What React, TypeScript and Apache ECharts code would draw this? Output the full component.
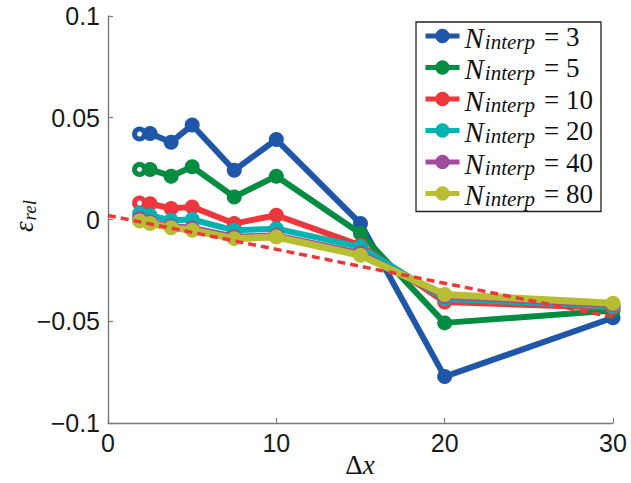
import React, { useEffect, useRef } from "react";
import * as echarts from "echarts";

// Grid spacing Δx at which the relative error was evaluated
const gridSpacing = [1.875, 2.5, 3.75, 5, 7.5, 10, 15, 20, 30];

// Number of interpolation points for each curve
const interpCounts = [3, 5, 10, 20, 40, 80];

// Relative error ε_rel for each interpolation count
const errInterp3 = [0.042, 0.0423, 0.038, 0.0464, 0.0242, 0.0393, -0.002, -0.0772, -0.0483];
const errInterp5 = [0.0246, 0.0246, 0.0213, 0.0259, 0.0111, 0.0213, -0.0069, -0.0508, -0.0447];
const errInterp10 = [0.0081, 0.0078, 0.0054, 0.0062, -0.002, 0.0021, -0.0127, -0.0406, -0.0434];
const errInterp20 = [0.0029, 0.002, -0.0004, 0, -0.0053, -0.0045, -0.0135, -0.039, -0.0428];
const errInterp40 = [0.0005, -0.0012, -0.0032, -0.0042, -0.0085, -0.0078, -0.0165, -0.0378, -0.042];
const errInterp80 = [-0.0007, -0.002, -0.004, -0.0053, -0.0094, -0.0086, -0.0176, -0.0368, -0.0411];

// Dashed reference trend
const trendX = [0, 30];
const trendY = [0.002, -0.048];

// Axis ticks
const xTicks = [0, 10, 20, 30];
const yTicks = [-0.1, -0.05, 0, 0.05, 0.1];

const errorSeries = [errInterp3, errInterp5, errInterp10, errInterp20, errInterp40, errInterp80];
const colors = ["#1f56a8", "#008c41", "#ee373c", "#00b2b2", "#a04ba0", "#b8be33"];
const hollowFirst = [true, true, true, false, false, false];

const SERIF = "'Liberation Serif', 'Times New Roman', serif";
const SANS = "'Liberation Sans', Arial, Helvetica, sans-serif";

function formatY(v: number): string {
  const r = parseFloat(v.toFixed(3));
  if (r === 0) return "0";
  return (r < 0 ? "\u2212" : "") + String(Math.abs(r));
}

export default function App() {
  const ref = useRef<HTMLDivElement>(null);

  useEffect(() => {
    document.body.style.margin = "0";
    if (!ref.current) return;
    const chart = echarts.init(ref.current, null, { renderer: "svg" });

    const lineSeries = errorSeries.map((vals, i) => ({
      name: String(interpCounts[i]),
      type: "line",
      data: vals.map((y, j) => {
        const point: any = { value: [gridSpacing[j], y] };
        if (j === 0 && hollowFirst[i]) {
          point.symbolSize = 10;
          point.itemStyle = { color: "#ffffff", borderColor: colors[i], borderWidth: 5 };
        }
        return point;
      }),
      symbol: "circle",
      symbolSize: 15,
      showSymbol: true,
      lineStyle: { color: colors[i], width: i === 5 ? 7 : 6 },
      itemStyle: { color: colors[i] },
      z: 2 + i,
      emphasis: { disabled: true },
    }));

    const trendSeries = {
      name: "trend",
      type: "line",
      data: trendX.map((x, j) => [x, trendY[j]]),
      symbol: "none",
      lineStyle: { color: "#ee373c", width: 3.5, type: [8, 5] },
      z: 10,
      emphasis: { disabled: true },
    };

    chart.setOption({
      animation: false,
      backgroundColor: "#ffffff",
      grid: { left: 108, right: 18, top: 16, bottom: 60, containLabel: false, outerBoundsMode: "none" },
      xAxis: {
        type: "value",
        min: xTicks[0],
        max: xTicks[xTicks.length - 1],
        interval: xTicks[1] - xTicks[0],
        axisLine: { show: true, onZero: false, lineStyle: { color: "#7a7a7a", width: 1.4 } },
        axisTick: { show: true, inside: true, length: 5, lineStyle: { color: "#7a7a7a", width: 1.2 } },
        splitLine: { show: false },
        axisLabel: { fontFamily: SANS, fontSize: 25, color: "#1a1a1a", margin: 7 },
      },
      yAxis: {
        type: "value",
        min: yTicks[0],
        max: yTicks[yTicks.length - 1],
        interval: yTicks[1] - yTicks[0],
        axisLine: { show: true, onZero: false, lineStyle: { color: "#7a7a7a", width: 1.4 } },
        axisTick: { show: true, inside: true, length: 5, lineStyle: { color: "#7a7a7a", width: 1.2 } },
        splitLine: { show: false },
        axisLabel: { fontFamily: SANS, fontSize: 25, color: "#1a1a1a", margin: 8, formatter: formatY },
      },
      // Axis titles with math-style sub/superscripts
      graphic: [
        {
          type: "text",
          x: 360,
          y: 465,
          style: {
            text: "{d|\u0394}{x|x}",
            align: "center",
            verticalAlign: "middle",
            rich: {
              d: { fontFamily: SERIF, fontSize: 27, fill: "#111" },
              x: { fontFamily: SERIF, fontStyle: "italic", fontSize: 27, fill: "#111" },
            },
          },
        },
        {
          type: "text",
          x: 24,
          y: 216,
          rotation: Math.PI / 2,
          style: {
            text: "{e|\u03b5}{s|rel}",
            align: "center",
            verticalAlign: "middle",
            rich: {
              e: { fontFamily: SERIF, fontStyle: "italic", fontSize: 27, fill: "#111", lineHeight: 27, verticalAlign: "top" },
              s: { fontFamily: SERIF, fontStyle: "italic", fontSize: 19, fill: "#111", lineHeight: 18, padding: [9, 0, 0, 1], verticalAlign: "top" },
            },
          },
        },
      ],
      legend: {
        data: interpCounts.map(String),
        orient: "vertical",
        left: 416,
        top: 22,
        padding: [1, 8, 2, 7],
        itemGap: 2.5,
        itemWidth: 34,
        itemHeight: 18,
        lineStyle: { width: 5 },
        backgroundColor: "#ffffff",
        borderColor: "#222222",
        borderWidth: 1.3,
        borderRadius: 0,
        selectedMode: false,
        formatter: (name: string) => `{n|N}{s|interp}{e|= ${name}}`,
        textStyle: {
          rich: {
            n: { fontFamily: SERIF, fontStyle: "italic", fontSize: 29, color: "#111", lineHeight: 26, verticalAlign: "top" },
            s: { fontFamily: SERIF, fontStyle: "italic", fontSize: 21, color: "#111", lineHeight: 17, padding: [8, 0, 0, 1], verticalAlign: "top" },
            e: { fontFamily: SERIF, fontSize: 27, color: "#111", lineHeight: 26, padding: [0, 0, 0, 9], verticalAlign: "top" },
          },
        },
      },
      series: [...lineSeries, trendSeries],
    });

    return () => chart.dispose();
  }, []);

  return <div ref={ref} style={{ width: 631, height: 483 }} />;
}
